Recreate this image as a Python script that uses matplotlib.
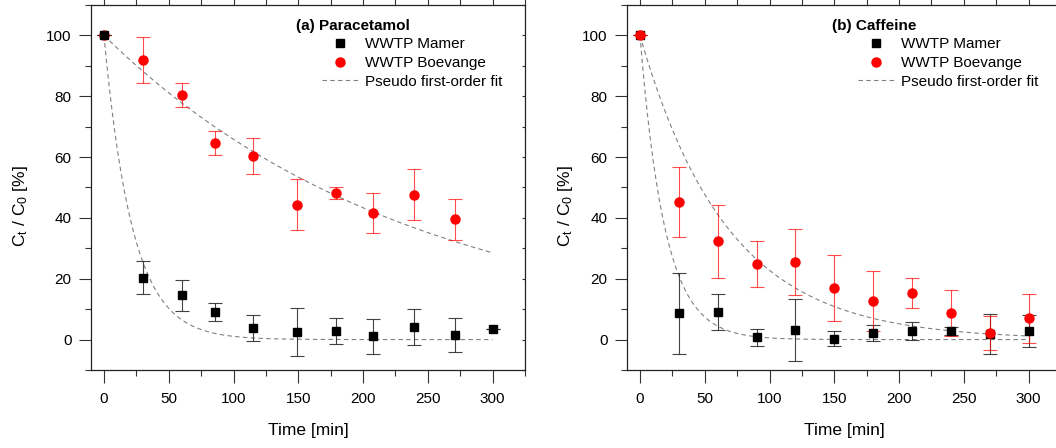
import numpy as np
import matplotlib
matplotlib.use("Agg")
import matplotlib.pyplot as plt
from matplotlib.ticker import MultipleLocator

plt.rcParams["font.family"] = ["Liberation Sans", "DejaVu Sans"]
plt.rcParams["mathtext.fontset"] = "custom"
plt.rcParams["mathtext.rm"] = "Liberation Sans"
plt.rcParams["mathtext.it"] = "Liberation Sans"

# (a) Paracetamol
t_a_mamer = [0, 30, 60, 86, 115, 149, 179, 208, 239, 271, 300]
c_a_mamer = [100, 20.4, 14.6, 9.1, 3.8, 2.5, 2.8, 1.1, 4.1, 1.4, 3.5]
e_a_mamer = [0, 5.5, 5.1, 3.0, 4.4, 8.0, 4.4, 5.8, 5.8, 5.6, 0]

t_a_boev = [0, 30, 60, 86, 115, 149, 179, 208, 239, 271]
c_a_boev = [100, 91.9, 80.4, 64.7, 60.4, 44.4, 48.1, 41.7, 47.6, 39.6]
e_a_boev = [0, 7.5, 4.0, 4.0, 6.0, 8.3, 2.0, 6.5, 8.4, 6.7]

# (b) Caffeine
t_b = [0, 30, 60, 90, 120, 150, 180, 210, 240, 270, 300]
c_b_mamer = [100, 8.6, 9.1, 0.7, 3.2, 0.3, 2.1, 2.8, 2.8, 1.9, 2.8]
e_b_mamer = [0, 13.2, 5.9, 2.7, 10.1, 2.4, 2.6, 2.9, 1.3, 6.5, 5.2]
c_b_boev = [100, 45.2, 32.3, 24.9, 25.5, 16.9, 12.7, 15.3, 8.8, 2.1, 7.0]
e_b_boev = [0, 11.4, 11.9, 7.5, 11.0, 10.8, 10.0, 4.8, 7.6, 5.5, 8.0]

# pseudo first-order rate constants [1/min]
k_a_mamer, k_a_boev = 0.0455, 0.00418
k_b_mamer, k_b_boev = 0.052, 0.0148

fig = plt.figure(figsize=(10.56, 4.48), dpi=100)
ax_a = fig.add_axes([91 / 1056, 78 / 448, 434 / 1056, 365 / 448])
ax_b = fig.add_axes([627 / 1056, 78 / 448, 434 / 1056, 365 / 448])


def draw_mamer(ax, t, c, e):
    ax.errorbar(t, c, yerr=e, fmt="none", ecolor="#222222", elinewidth=0.8,
                capsize=4.7, capthick=0.8, alpha=0.85, zorder=3)
    ax.plot(t, c, "s", color="black", markersize=6, zorder=4, label="WWTP Mamer")


def draw_boev(ax, t, c, e):
    ax.errorbar(t, c, yerr=e, fmt="none", ecolor="red", elinewidth=0.8,
                capsize=4.7, capthick=0.8, alpha=0.7, zorder=3)
    ax.plot(t, c, "o", color="red", markersize=6.5, zorder=4, label="WWTP Boevange")


def draw_fit(ax, k, label=None):
    tt = np.linspace(0, 300, 300)
    ax.plot(tt, 100 * np.exp(-k * tt), color="#808080", lw=0.8,
            dashes=(4, 3), zorder=2, label=label)


def style(ax, title, ylab_x):
    ax.set_xlim(-10, 325)
    ax.set_ylim(-10, 110)
    ax.xaxis.set_major_locator(MultipleLocator(50))
    ax.xaxis.set_minor_locator(MultipleLocator(25))
    ax.yaxis.set_major_locator(MultipleLocator(20))
    ax.yaxis.set_minor_locator(MultipleLocator(10))
    ax.set_yticks([0, 20, 40, 60, 80, 100])
    ax.tick_params(which="major", length=9, width=0.8, color="#333333",
                   labelsize=11, direction="out")
    ax.tick_params(which="minor", length=4, width=0.8, color="#333333",
                   direction="out")
    ax.tick_params(axis="x", pad=7)
    ax.tick_params(axis="y", pad=5)
    for s in ["left", "bottom"]:
        ax.spines[s].set_linewidth(0.9)
        ax.spines[s].set_color("#222222")
    ax.spines["top"].set_visible(False)
    ax.spines["right"].set_visible(False)

    top = ax.secondary_xaxis("top")
    top.xaxis.set_major_locator(MultipleLocator(25))
    top.tick_params(length=4, width=0.8, color="#333333", direction="out",
                    labeltop=False)
    top.spines["top"].set_linewidth(0.9)
    top.spines["top"].set_color("#222222")
    right = ax.secondary_yaxis("right")
    right.yaxis.set_major_locator(MultipleLocator(10))
    right.tick_params(length=2.5, width=0.8, color="#333333", direction="in",
                      labelright=False)
    right.spines["right"].set_linewidth(0.9)
    right.spines["right"].set_color("#222222")

    ax.set_xlabel("Time [min]", fontsize=12.5)
    ax.xaxis.set_label_coords(0.5, -0.145)
    ax.set_ylabel(r"C$_\mathrm{t}$ / C$_\mathrm{0}$ [%]", fontsize=12.5)
    ax.yaxis.set_label_coords(ylab_x, 0.45)

    ax.text(0.472, 0.943, title, transform=ax.transAxes, fontsize=11,
            fontweight="bold", ha="left", va="center")
    h, l = ax.get_legend_handles_labels()
    order = [l.index("WWTP Mamer"), l.index("WWTP Boevange"),
             l.index("Pseudo first-order fit")]
    ax.legend([h[i] for i in order], [l[i] for i in order],
              loc="upper left", bbox_to_anchor=(0.532, 0.911), frameon=False,
              fontsize=11, borderpad=0, borderaxespad=0, labelspacing=0.3,
              handlelength=2.4, handletextpad=0.4)


# panel (a)
draw_fit(ax_a, k_a_mamer, "Pseudo first-order fit")
draw_fit(ax_a, k_a_boev)
draw_boev(ax_a, t_a_boev, c_a_boev, e_a_boev)
draw_mamer(ax_a, t_a_mamer, c_a_mamer, e_a_mamer)
style(ax_a, "(a) Paracetamol", -0.14)

# panel (b)
draw_fit(ax_b, k_b_mamer, "Pseudo first-order fit")
draw_fit(ax_b, k_b_boev)
draw_mamer(ax_b, t_b, c_b_mamer, e_b_mamer)
draw_boev(ax_b, t_b, c_b_boev, e_b_boev)
style(ax_b, "(b) Caffeine", -0.12)

fig.savefig("out.png", dpi=100)
